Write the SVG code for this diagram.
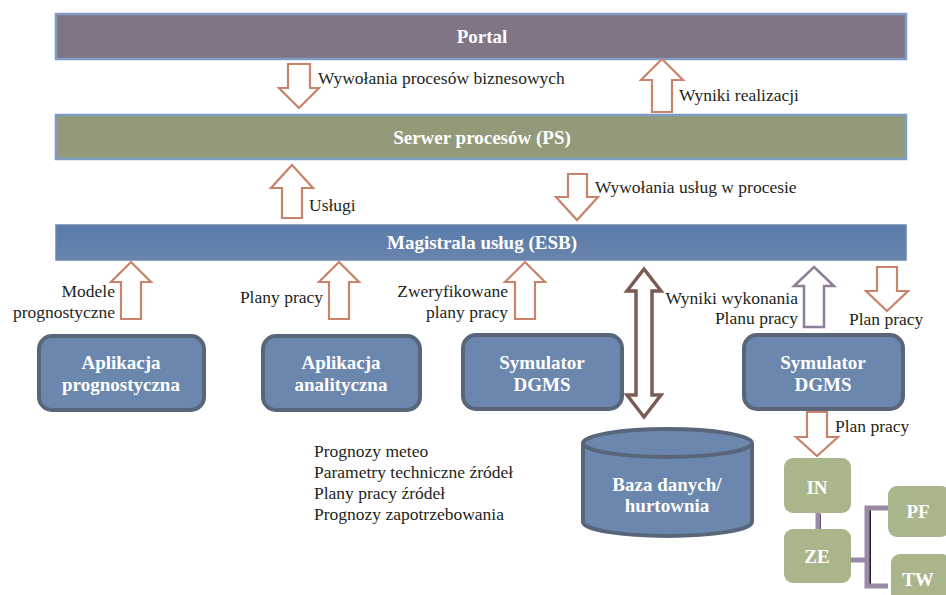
<svg xmlns="http://www.w3.org/2000/svg" width="946" height="595" viewBox="0 0 946 595">
<defs>
<linearGradient id="esbg" x1="0" y1="0" x2="0" y2="1">
<stop offset="0" stop-color="#5a7bab"/>
<stop offset="1" stop-color="#6784ab"/>
</linearGradient>
</defs>
<style>
.bar{stroke:#7f9cc4;stroke-width:2.5}
.bt{font-family:'Liberation Serif','DejaVu Serif',serif;font-weight:bold;font-size:19px;fill:#fff;text-anchor:middle}
.lbl{font-family:'Liberation Serif','DejaVu Serif',serif;font-size:17.5px;fill:#231f20}
.end{text-anchor:end}
.arr{fill:#fff;stroke:#c8836a;stroke-width:2.2;stroke-linejoin:miter}
.arrp{fill:#fff;stroke:#8e7e98;stroke-width:2.5}
.arrd{fill:#fff;stroke:#7a5c55;stroke-width:3.5}
.box{fill:#6b87ae;stroke:#59657a;stroke-width:4}
.gbox{fill:#a9b68b}
.nt{font-family:'Liberation Serif','DejaVu Serif',serif;font-weight:bold;font-size:19px;fill:#fff;text-anchor:middle}
.cn{fill:none;stroke:#9a8aa5;stroke-width:5}
.cs{fill:none;stroke:#222;stroke-width:2}
</style>

<g id="portal">
<rect class="bar" x="56" y="14" width="850" height="45" fill="#7f7584"/>
<text class="bt" x="482" y="43">Portal</text>
</g>
<g id="serwer">
<rect class="bar" x="56" y="115" width="850" height="44" fill="#939a79"/>
<text class="bt" x="482" y="144">Serwer procesów (PS)</text>
</g>
<g id="esb">
<rect x="56" y="225" width="850" height="35" fill="url(#esbg)" stroke="#6a85ad" stroke-width="1.5"/>
<text class="bt" x="482" y="249">Magistrala usług (ESB)</text>
</g>

<g id="app-prog">
<rect class="box" x="39" y="336" width="165" height="74" rx="13"/>
<text class="nt" x="121" y="369">Aplikacja</text>
<text class="nt" x="121" y="391">prognostyczna</text>
</g>
<g id="app-anal">
<rect class="box" x="263" y="336" width="157" height="74" rx="13"/>
<text class="nt" x="341" y="369">Aplikacja</text>
<text class="nt" x="341" y="391">analityczna</text>
</g>
<g id="sym1">
<rect class="box" x="463" y="335" width="159" height="74" rx="13"/>
<text class="nt" x="542" y="369">Symulator</text>
<text class="nt" x="542" y="391">DGMS</text>
</g>
<g id="sym2">
<rect class="box" x="744" y="335" width="159" height="74" rx="13"/>
<text class="nt" x="823" y="369">Symulator</text>
<text class="nt" x="823" y="391">DGMS</text>
</g>
<g id="db">
<path class="box" d="M583,443 V522 A84.5,14 0 0 0 752,522 V443 A84.5,14 0 0 0 583,443 Z"/>
<path fill="none" stroke="#59657a" stroke-width="4" d="M583,443 A84.5,14 0 0 0 752,443"/>
<text class="nt" x="667" y="491">Baza danych/</text>
<text class="nt" x="667" y="512">hurtownia</text>
</g>
<g id="in">
<rect class="gbox" x="784" y="458" width="67" height="55" rx="9"/>
<text class="nt" x="817" y="494">IN</text>
</g>
<g id="ze">
<rect class="gbox" x="784" y="529" width="67" height="54" rx="9"/>
<text class="nt" x="817" y="563">ZE</text>
</g>
<g id="pf">
<rect class="gbox" x="888" y="486" width="62" height="51" rx="9"/>
<text class="nt" x="918" y="518">PF</text>
</g>
<g id="tw">
<rect class="gbox" x="891" y="554" width="60" height="50" rx="9"/>
<text class="nt" x="918" y="586">TW</text>
</g>

<g id="connectors">
<path class="arr" d="M288,64 H310 V88 H319 L299,108 L279,88 H288 Z"/>
<path class="arr" d="M662,59 L683,80 H672 V112 H652 V80 H641 Z"/>
<path class="arr" d="M292,165 L313,188 H302 V218 H282 V188 H271 Z"/>
<path class="arr" d="M568,174 H587 V197 H598 L577,220 L556,197 H568 Z"/>
<path class="arr" d="M131,262 L151,282 H141 V319 H121 V282 H111 Z"/>
<path class="arr" d="M339,262 L359,282 H349 V319 H329 V282 H319 Z"/>
<path class="arr" d="M525,262 L545,282 H535 V319 H515 V282 H505 Z"/>
<path class="arrp" d="M814,267 L834,286 H824 V327 H804 V286 H794 Z"/>
<path class="arr" d="M877,267 H897 V291 H908 L887,311 L866,291 H877 Z"/>
<path class="arr" d="M807,412 H827 V437 H838 L817,456 L796,437 H807 Z"/>
<path class="arrd" d="M644,269 L661,291 H652 V395 H661 L644,417 L627,395 H636 V291 H627 Z"/>
<path class="cs" d="M820,514 V529"/>
<path class="cn" d="M818,513 V529"/>
<path class="cs" d="M870,509 H888 M870,509 V587 H888"/>
<path class="cn" d="M851,560 H867 M888,508 H867 V586 H888"/>
</g>

<g id="labels">
<text class="lbl" x="318" y="84">Wywołania procesów biznesowych</text>
<text class="lbl" x="679" y="101">Wyniki realizacji</text>
<text class="lbl" x="309" y="211">Usługi</text>
<text class="lbl" x="595" y="193">Wywołania usług w procesie</text>
<text class="lbl end" x="115" y="297">Modele</text>
<text class="lbl end" x="115" y="318">prognostyczne</text>
<text class="lbl end" x="323" y="303">Plany pracy</text>
<text class="lbl end" x="508" y="297">Zweryfikowane</text>
<text class="lbl end" x="508" y="318">plany pracy</text>
<text class="lbl end" x="798" y="304">Wyniki wykonania</text>
<text class="lbl end" x="798" y="324">Planu pracy</text>
<text class="lbl" x="849" y="325">Plan pracy</text>
<text class="lbl" x="835" y="432">Plan pracy</text>
<text class="lbl" x="314" y="457">Prognozy meteo</text>
<text class="lbl" x="314" y="478">Parametry techniczne źródeł</text>
<text class="lbl" x="314" y="499">Plany pracy źródeł</text>
<text class="lbl" x="314" y="520">Prognozy zapotrzebowania</text>
</g>
</svg>
